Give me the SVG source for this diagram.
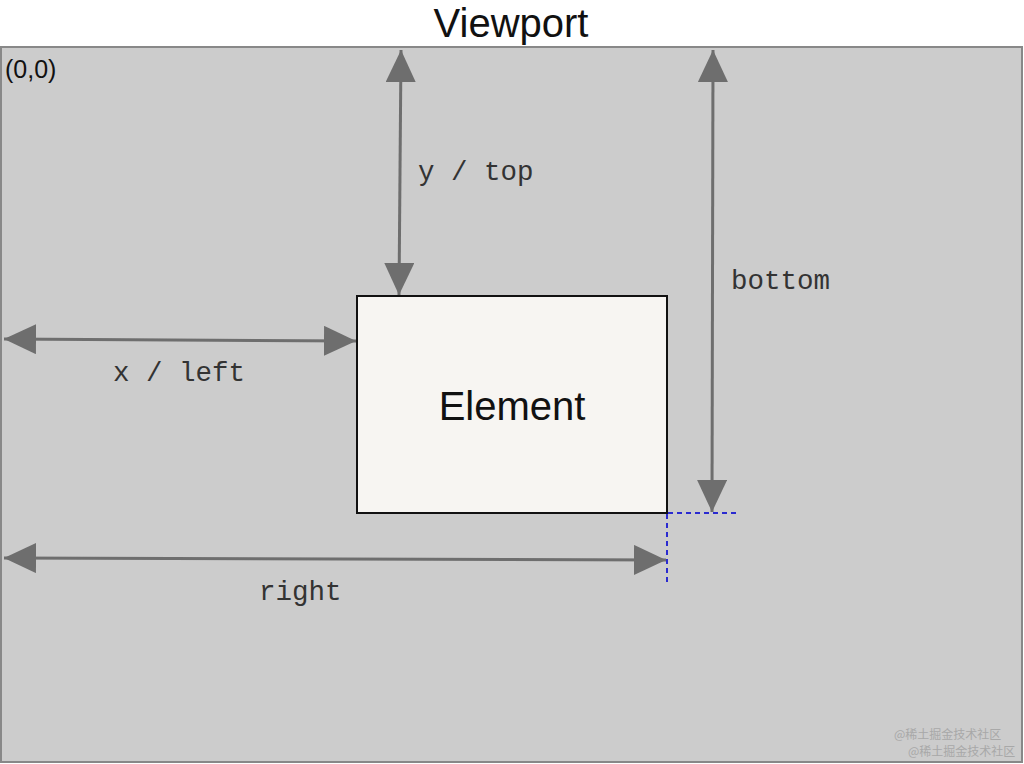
<svg xmlns="http://www.w3.org/2000/svg" width="1024" height="764" viewBox="0 0 1024 764">
<style>
.lbl{font-family:"Liberation Mono","DejaVu Sans Mono",monospace;font-size:27.5px;fill:#333}
.sans{font-family:"Liberation Sans",Arial,sans-serif;fill:#111}
.arr{stroke:#6e6e6e;stroke-width:3;fill:none}
.dot{stroke:#2a2ad0;stroke-width:2;stroke-dasharray:5,4;fill:none}
.wm{font-family:"Noto Sans CJK SC",sans-serif;font-size:12px;fill:#a8a8a8}
</style>
<defs>
<marker id="ah" markerUnits="userSpaceOnUse" markerWidth="32" markerHeight="30" refX="32" refY="15" orient="auto-start-reverse" viewBox="0 0 32 30">
<path d="M0,0 L32,15 L0,30 z" fill="#6e6e6e"/>
</marker>
</defs>
<rect x="0" y="0" width="1024" height="764" fill="#ffffff"/>
<g id="viewport">
<rect x="1" y="47" width="1021" height="715" fill="#cccccc" stroke="#888888" stroke-width="2"/>
<text class="sans" x="511" y="37" font-size="40" text-anchor="middle">Viewport</text>
<text class="sans" x="5" y="78" font-size="25">(0,0)</text>
</g>
<g id="element">
<rect x="357" y="296" width="310" height="217" fill="#f7f5f2" stroke="#111" stroke-width="2"/>
<text class="sans" x="512" y="420" font-size="40" text-anchor="middle">Element</text>
</g>
<g id="connectors">
<line class="arr" x1="401" y1="50" x2="399" y2="295" marker-start="url(#ah)" marker-end="url(#ah)"/>
<line class="arr" x1="713" y1="50" x2="712" y2="512" marker-start="url(#ah)" marker-end="url(#ah)"/>
<line class="arr" x1="4" y1="339" x2="356" y2="341" marker-start="url(#ah)" marker-end="url(#ah)"/>
<line class="arr" x1="4" y1="558" x2="666" y2="560" marker-start="url(#ah)" marker-end="url(#ah)"/>
<line class="dot" x1="668" y1="513" x2="738" y2="513"/>
<line class="dot" x1="667" y1="514" x2="667" y2="583"/>
</g>
<g id="labels">
<text class="lbl" x="418" y="180">y / top</text>
<text class="lbl" x="731" y="289">bottom</text>
<text class="lbl" x="113" y="381">x / left</text>
<text class="lbl" x="259" y="600">right</text>
</g>
<g id="watermark">
<text class="wm" x="894" y="739">@稀土掘金技术社区</text>
<text class="wm" x="908" y="756">@稀土掘金技术社区</text>
</g>
</svg>
